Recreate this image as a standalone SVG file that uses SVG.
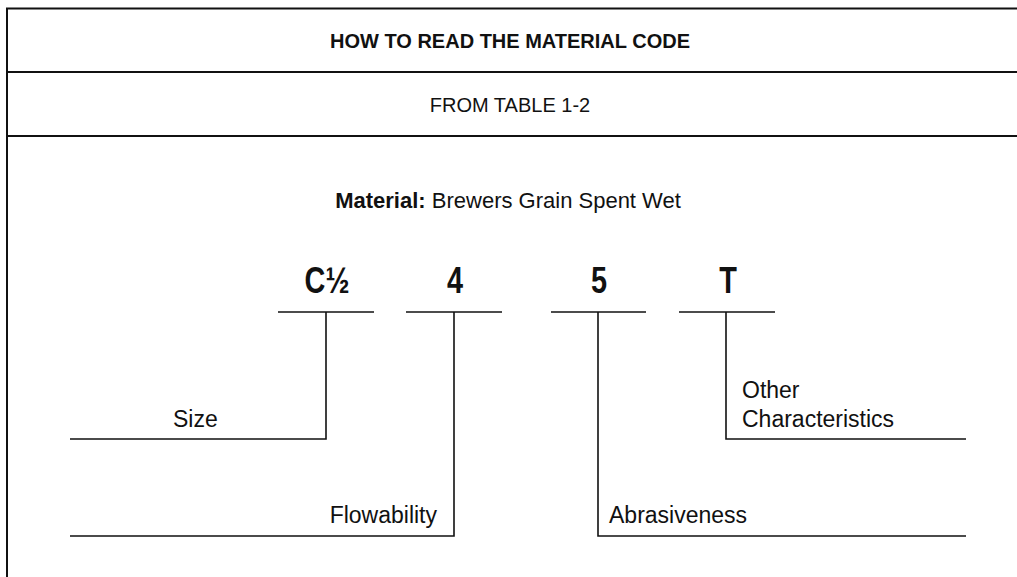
<svg xmlns="http://www.w3.org/2000/svg" width="1017" height="577" viewBox="0 0 1017 577">
<style>
.frame{stroke:#111;stroke-width:2;fill:none}
.ln{stroke:#111;stroke-width:1.6;fill:none}
.t{font-family:"Liberation Sans",Arial,sans-serif;fill:#111}
.lbl{font-family:"Liberation Sans",Arial,sans-serif;fill:#111;font-size:23px}
.code{font-family:"Liberation Sans",Arial,sans-serif;font-weight:bold;font-size:37px;fill:#111;text-anchor:middle}
</style>
<rect width="1017" height="577" fill="#fff"/>
<g id="frame">
<path class="frame" d="M7 577 V8.5 H1017 M7 72 H1017 M7 136 H1017"/>
</g>
<g id="title"><text class="t" x="510" y="47.5" font-size="20" font-weight="bold" text-anchor="middle">HOW TO READ THE MATERIAL CODE</text></g>
<g id="subtitle"><text class="t" x="510" y="111.5" font-size="20" text-anchor="middle">FROM TABLE 1-2</text></g>
<g id="material"><text class="t" x="508" y="208" font-size="22" text-anchor="middle"><tspan font-weight="bold">Material:</tspan> Brewers Grain Spent Wet</text></g>
<g id="code-size"><text class="code" transform="translate(327 293) scale(0.78 1)">C½</text><path class="ln" d="M278 312 H374"/></g>
<g id="code-flow"><text class="code" transform="translate(455 293) scale(0.78 1)">4</text><path class="ln" d="M406 312 H502"/></g>
<g id="code-abr"><text class="code" transform="translate(599 293) scale(0.78 1)">5</text><path class="ln" d="M551 312 H646"/></g>
<g id="code-other"><text class="code" transform="translate(728 293) scale(0.78 1)">T</text><path class="ln" d="M679 312 H775"/></g>
<g id="connectors">
<path class="ln" d="M326 312 V439 H70"/>
<path class="ln" d="M454 312 V536 H70" stroke-width="2"/>
<path class="ln" d="M598 312 V536 H966"/>
<path class="ln" d="M726 312 V439 H966"/>
</g>
<g id="label-size"><text class="lbl" x="173" y="427">Size</text></g>
<g id="label-flow"><text class="lbl" x="437" y="523" text-anchor="end">Flowability</text></g>
<g id="label-abr"><text class="lbl" x="609" y="523">Abrasiveness</text></g>
<g id="label-other"><text class="lbl" x="742" y="398">Other</text><text class="lbl" x="742" y="427">Characteristics</text></g>
</svg>
